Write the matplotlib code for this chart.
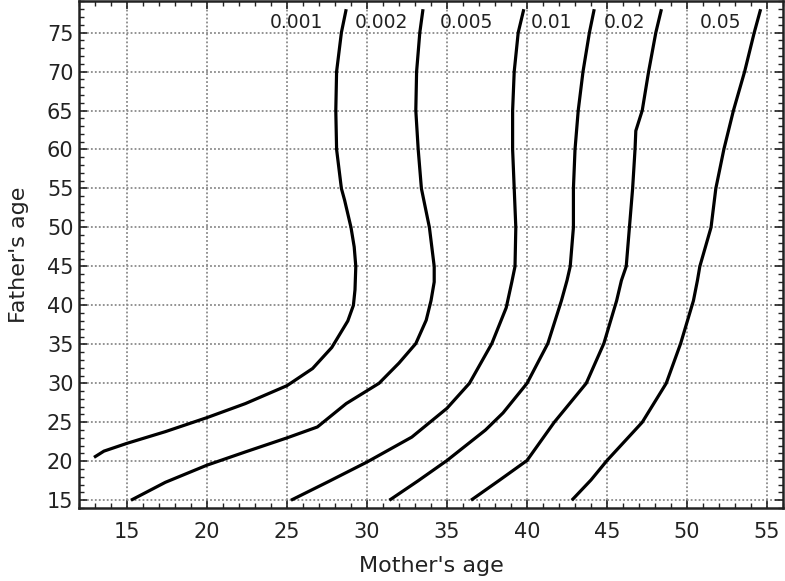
import matplotlib
matplotlib.use("Agg")
import matplotlib.pyplot as plt
from matplotlib.ticker import MultipleLocator

plt.rcParams['font.family'] = ['DejaVu Sans']

# Contour curves: (mother's age, father's age)
c001_x = [12.94, 13.56, 15.0, 17.4, 20.0, 22.4, 25.0, 26.6, 27.8, 28.8, 29.15, 29.25, 29.3, 29.2, 29.0, 28.6, 28.4, 28.1, 28.05, 28.1, 28.4, 28.7]
c001_y = [20.5, 21.3, 22.3, 23.8, 25.6, 27.4, 29.7, 31.9, 34.6, 38.0, 40.0, 42.0, 45.0, 47.5, 50.0, 53.5, 55.0, 60.0, 65.0, 70.0, 75.0, 78.0]

c002_x = [15.25, 17.4, 20.0, 22.4, 25.0, 26.9, 28.7, 30.75, 32.0, 33.05, 33.7, 34.0, 34.2, 34.2, 33.9, 33.4, 33.2, 33.05, 33.1, 33.3, 33.5]
c002_y = [15.0, 17.3, 19.5, 21.2, 23.0, 24.4, 27.4, 30.0, 32.6, 35.1, 38.1, 40.6, 43.0, 45.0, 50.0, 55.0, 60.0, 65.0, 70.0, 75.0, 78.0]

c005_x = [25.25, 27.6, 30.0, 32.8, 35.0, 36.4, 37.8, 38.7, 39.05, 39.25, 39.3, 39.2, 39.1, 39.1, 39.2, 39.45, 39.8]
c005_y = [15.0, 17.4, 19.9, 23.1, 26.8, 30.0, 35.1, 39.7, 43.0, 45.0, 50.0, 55.0, 60.0, 65.0, 70.0, 75.0, 78.0]

c01_x = [31.4, 33.2, 35.0, 37.4, 38.5, 40.0, 41.3, 42.15, 42.5, 42.7, 42.9, 42.9, 43.0, 43.2, 43.5, 43.9, 44.2]
c01_y = [15.0, 17.5, 20.1, 24.0, 26.2, 30.0, 35.1, 40.6, 43.2, 45.0, 50.0, 55.0, 60.0, 65.0, 70.0, 75.0, 78.0]

c02_x = [36.5, 38.3, 40.0, 41.7, 43.7, 44.8, 45.6, 45.9, 46.2, 46.4, 46.6, 46.75, 46.8, 47.2, 47.6, 48.05, 48.4]
c02_y = [15.0, 17.6, 20.1, 25.0, 30.0, 35.1, 40.6, 43.2, 45.0, 50.0, 55.0, 60.0, 62.4, 65.0, 70.0, 75.0, 78.0]

c05_x = [42.8, 44.0, 45.0, 47.2, 48.7, 49.6, 50.4, 50.65, 50.8, 51.5, 51.8, 52.3, 52.9, 53.6, 54.2, 54.6]
c05_y = [15.0, 17.6, 20.1, 25.0, 30.0, 35.1, 40.6, 43.2, 45.0, 50.0, 55.0, 60.0, 65.0, 70.0, 75.0, 78.0]

labels = ["0.001", "0.002", "0.005", "0.01", "0.02", "0.05"]
label_x = [25.6, 30.9, 36.2, 41.5, 46.1, 52.1]
label_y = 76.3

x_ticks = [15, 20, 25, 30, 35, 40, 45, 50, 55]
y_ticks = [15, 20, 25, 30, 35, 40, 45, 50, 55, 60, 65, 70, 75]

fig = plt.figure(figsize=(7.85, 5.81), dpi=100)
ax = fig.add_axes([0.1006, 0.1256, 0.8969, 0.872])

curves = [(c001_x, c001_y), (c002_x, c002_y), (c005_x, c005_y),
          (c01_x, c01_y), (c02_x, c02_y), (c05_x, c05_y)]
for cx, cy in curves:
    ax.plot(cx, cy, color='black', lw=2.3, solid_capstyle='butt',
            solid_joinstyle='round', zorder=3)

for lab, lx in zip(labels, label_x):
    ax.text(lx, label_y, lab, ha='center', va='center', fontsize=13.5,
            color='#222222', zorder=4)

ax.set_xlim(12, 56)
ax.set_ylim(14, 79)
ax.set_xticks(x_ticks)
ax.set_yticks(y_ticks)
ax.xaxis.set_minor_locator(MultipleLocator(1))
ax.yaxis.set_minor_locator(MultipleLocator(1))
ax.tick_params(which='both', direction='in', top=True, right=True, color='#222222')
ax.tick_params(which='major', length=6, width=1.2, labelsize=15, labelcolor='#222222')
ax.tick_params(which='minor', length=3.5, width=1.0)
ax.tick_params(axis='x', which='major', pad=10)
ax.tick_params(axis='y', which='major', pad=4)

ax.grid(True, which='major', color='#8a8a8a', linestyle=(0, (1, 1.2)), linewidth=1.3)
for s in ax.spines.values():
    s.set_linewidth(1.8)
    s.set_color('#222222')

ax.set_xlabel("Mother's age", fontsize=16, color='#222222', labelpad=10)
ax.set_ylabel("Father's age", fontsize=16, color='#222222', labelpad=13)

fig.savefig('out.png', dpi=100)
